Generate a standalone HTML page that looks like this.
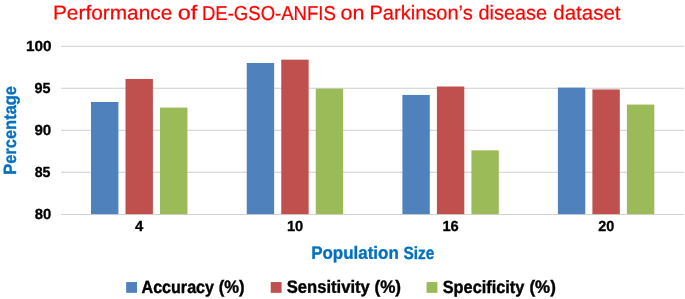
<!DOCTYPE html>
<html lang="en"><head><meta charset="utf-8"><title>Performance of DE-GSO-ANFIS on Parkinson’s disease dataset</title>
<style>
html,body{margin:0;padding:0;background:#fff;}
body{width:685px;height:299px;overflow:hidden;}
svg{display:block;}
text{font-family:"Liberation Sans",sans-serif;}
.tt{font-size:20.1px;fill:#FF0000;stroke:#FF0000;stroke-width:0.2px;}
.tk{font-size:14.6px;font-weight:bold;fill:#000;stroke:#000;stroke-width:0.3px;}
.ax{font-size:17.7px;font-weight:bold;fill:#0070C0;stroke:#0070C0;stroke-width:0.35px;}
.lg{font-size:17.7px;font-weight:bold;fill:#000;stroke:#000;stroke-width:0.4px;}
</style></head><body>
<svg width="685" height="299" viewBox="0 0 685 299">
<rect width="685" height="299" fill="#fff"/>
<rect x="61.0" y="45.75" width="623.0" height="1" fill="#CDCDCD"/>
<rect x="61.0" y="87.75" width="623.0" height="1" fill="#CDCDCD"/>
<rect x="61.0" y="129.75" width="623.0" height="1" fill="#CDCDCD"/>
<rect x="61.0" y="171.75" width="623.0" height="1" fill="#CDCDCD"/>
<rect x="61.0" y="214.00" width="623.0" height="1" fill="#D2D2D2"/>
<rect x="91.00" y="101.98" width="27.4" height="112.14" fill="#4F81BD"/>
<rect x="125.50" y="78.96" width="27.4" height="135.16" fill="#C0504D"/>
<rect x="160.00" y="107.60" width="27.4" height="106.52" fill="#9BBB59"/>
<rect x="246.75" y="63.00" width="27.4" height="151.12" fill="#4F81BD"/>
<rect x="281.25" y="59.64" width="27.4" height="154.48" fill="#C0504D"/>
<rect x="315.75" y="88.62" width="27.4" height="125.50" fill="#9BBB59"/>
<rect x="402.40" y="94.92" width="27.4" height="119.20" fill="#4F81BD"/>
<rect x="436.90" y="86.52" width="27.4" height="127.60" fill="#C0504D"/>
<rect x="471.40" y="150.36" width="27.4" height="63.76" fill="#9BBB59"/>
<rect x="557.90" y="87.61" width="27.4" height="126.51" fill="#4F81BD"/>
<rect x="592.40" y="89.46" width="27.4" height="124.66" fill="#C0504D"/>
<rect x="626.90" y="104.58" width="27.4" height="109.54" fill="#9BBB59"/>
<text class="tk" x="25.96" y="51.00" textLength="25.56" lengthAdjust="spacingAndGlyphs" transform="rotate(0.03 25.96 51.00)">100</text>
<text class="tk" x="34.48" y="93.00" textLength="16.03" lengthAdjust="spacingAndGlyphs" transform="rotate(0.03 34.48 93.00)">95</text>
<text class="tk" x="34.48" y="135.00" textLength="16.79" lengthAdjust="spacingAndGlyphs" transform="rotate(0.03 34.48 135.00)">90</text>
<text class="tk" x="34.74" y="177.00" textLength="15.77" lengthAdjust="spacingAndGlyphs" transform="rotate(0.03 34.74 177.00)">85</text>
<text class="tk" x="34.74" y="219.00" textLength="16.53" lengthAdjust="spacingAndGlyphs" transform="rotate(0.03 34.74 219.00)">80</text>
<text class="tk" x="134.99" y="231.0" textLength="8.26" lengthAdjust="spacingAndGlyphs" transform="rotate(0.03 134.99 231.0)">4</text>
<text class="tk" x="286.94" y="231.0" textLength="16.34" lengthAdjust="spacingAndGlyphs" transform="rotate(0.03 286.94 231.0)">10</text>
<text class="tk" x="442.46" y="231.0" textLength="16.31" lengthAdjust="spacingAndGlyphs" transform="rotate(0.03 442.46 231.0)">16</text>
<text class="tk" x="598.23" y="231.0" textLength="16.06" lengthAdjust="spacingAndGlyphs" transform="rotate(0.03 598.23 231.0)">20</text>
<text class="tt" x="52.96" y="19.55" textLength="119.30" lengthAdjust="spacingAndGlyphs" transform="rotate(0.03 52.96 19.55)">Performance</text>
<text class="tt" x="177.71" y="19.55" textLength="19.54" lengthAdjust="spacingAndGlyphs" transform="rotate(0.03 177.71 19.55)">of</text>
<text class="tt" x="201.98" y="19.55" textLength="133.79" lengthAdjust="spacingAndGlyphs" transform="rotate(0.03 201.98 19.55)">DE-GSO-ANFIS</text>
<text class="tt" x="340.42" y="19.55" textLength="23.95" lengthAdjust="spacingAndGlyphs" transform="rotate(0.03 340.42 19.55)">on</text>
<text class="tt" x="369.46" y="19.55" textLength="103.30" lengthAdjust="spacingAndGlyphs" transform="rotate(0.03 369.46 19.55)">Parkinson’s</text>
<text class="tt" x="478.48" y="19.55" textLength="68.54" lengthAdjust="spacingAndGlyphs" transform="rotate(0.03 478.48 19.55)">disease</text>
<text class="tt" x="553.24" y="19.55" textLength="67.26" lengthAdjust="spacingAndGlyphs" transform="rotate(0.03 553.24 19.55)">dataset</text>
<text class="ax" x="311.23" y="258.8" textLength="87.55" lengthAdjust="spacingAndGlyphs" transform="rotate(0.03 311.23 258.8)">Population</text>
<text class="ax" x="403.49" y="258.8" textLength="30.77" lengthAdjust="spacingAndGlyphs" transform="rotate(0.03 403.49 258.8)">Size</text>
<text class="ax" transform="translate(16.2,173.8) rotate(-89.97)" x="-0.97" y="0" textLength="88.78" lengthAdjust="spacingAndGlyphs">Percentage</text>
<rect x="126.15" y="282.05" width="10.85" height="10.8" fill="#4F81BD"/>
<text class="lg" x="141.50" y="292.8" textLength="72.50" lengthAdjust="spacingAndGlyphs" transform="rotate(0.03 141.50 292.8)">Accuracy</text>
<text class="lg" x="218.72" y="292.8" textLength="25.82" lengthAdjust="spacingAndGlyphs" transform="rotate(0.03 218.72 292.8)">(%)</text>
<rect x="270.75" y="282.05" width="10.85" height="10.8" fill="#C0504D"/>
<text class="lg" x="286.75" y="292.8" textLength="83.00" lengthAdjust="spacingAndGlyphs" transform="rotate(0.03 286.75 292.8)">Sensitivity</text>
<text class="lg" x="374.46" y="292.8" textLength="26.57" lengthAdjust="spacingAndGlyphs" transform="rotate(0.03 374.46 292.8)">(%)</text>
<rect x="426.55" y="282.05" width="10.85" height="10.8" fill="#9BBB59"/>
<text class="lg" x="442.75" y="292.8" textLength="81.50" lengthAdjust="spacingAndGlyphs" transform="rotate(0.03 442.75 292.8)">Specificity</text>
<text class="lg" x="529.46" y="292.8" textLength="26.33" lengthAdjust="spacingAndGlyphs" transform="rotate(0.03 529.46 292.8)">(%)</text>
</svg>
</body></html>
